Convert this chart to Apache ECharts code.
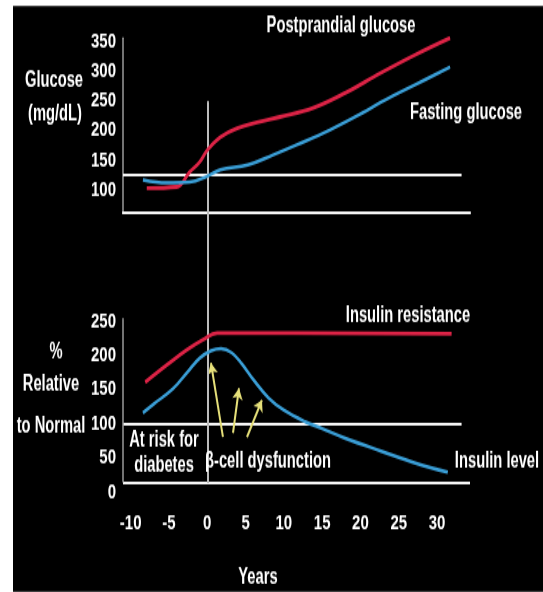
<!DOCTYPE html>
<html>
<head>
<meta charset="utf-8">
<script src="https://cdn.jsdelivr.net/npm/echarts@6/dist/echarts.min.js"></script>
<style>
html,body{margin:0;padding:0;background:#fff;overflow:hidden;width:543px;height:592px;}
/* the original slide is stretched vertically: draw at 1/1.4 height and stretch */
#chart{width:543px;height:422.86px;transform:scaleY(1.4);transform-origin:0 0;}
</style>
</head>
<body>
<div id="chart"></div>
<script>
// ---- Data ----
const glucoseTicks = [100, 150, 200, 250, 300, 350];
const percentTicks = [0, 50, 100, 150, 200, 250];
const yearTicks = [-10, -5, 0, 5, 10, 15, 20, 25, 30];

const postprandialYears = [-7.9, -4.0, -2.3, -1.0, 0, 1.7, 3.9, 6.9, 9.5, 13.8, 18.1, 22.5, 27.2, 31.7];
const postprandialGlucose = [103, 105, 130, 147, 167, 189, 204, 215, 223, 238, 264, 296, 328, 356];

const fastingYears = [-8.4, -5.3, -2.3, 0, 1.7, 5.3, 8.6, 11.7, 16.0, 20.3, 22.7, 27.1, 31.7];
const fastingGlucose = [117, 112, 113, 123, 134, 142, 159, 176, 201, 230, 248, 277, 307];

const resistanceYears = [-8.1, -5.3, -2.7, -0.6, 1.3, 31.9];
const resistancePct = [161, 186, 208, 223, 233, 232];

const insulinYears = [-8.4, -7.0, -4.5, -2.5, -1.0, 0.5, 1.8, 3.2, 4.5, 6.0, 8.0, 10.0, 12.8, 15.0, 18.0, 22.7, 27.3, 31.4];
const insulinPct = [116, 129, 151, 177, 196, 207, 210, 204, 188, 165, 138, 120, 103, 93, 79, 60, 42, 29];

const glucoseNormal = 125;   // white reference line, top panel
const glucoseBase = 61;      // bottom line of top panel
const percentNormal = 100;   // white reference line, bottom panel
const percentBase = 14;      // bottom line of bottom panel

const arrowTails = [[2.05, 80.6], [3.36, 86.5], [5.18, 80.6]];
const arrowHeads = [[0.48, 189], [4.14, 152], [7.14, 134.8]];

const xMin = -11, xMax = 34.3, lineEnd = 33.2;

// ---- Styles ----
const SY = 1.4; // vertical stretch applied by CSS
const FONT = "'Liberation Sans', Arial, sans-serif";
const RED = '#dc2346';
const BLUE = '#3a9ed6';
const WHITE = '#f4f4f4';
const AXISGRAY = '#9a9a9a';

const pair = (xs, ys) => xs.map((x, i) => [x, ys[i]]);
const Y = v => v / SY;   // page y -> chart y

const chart = echarts.init(document.getElementById('chart'), null, {renderer: 'canvas'});

function txt(text, x, y) {
  return {
    type: 'text', x: x, y: Y(y), z: 100, scaleX: 0.92, scaleY: 1,
    style: {text: text, fill: '#fff', font: 'bold 16px ' + FONT, align: 'center', verticalAlign: 'middle'}
  };
}

const tickLabel = {color: '#fff', fontFamily: FONT, fontWeight: 'bold', fontSize: 15};

const option = {
  backgroundColor: '#ffffff',
  animation: false,
  grid: [
    {left: 123, top: Y(38), width: 347, height: Y(175)},
    {left: 123, top: Y(318), width: 347, height: Y(174)},
    {left: 123, top: Y(101), width: 347, height: Y(382)}
  ],
  xAxis: [
    {gridIndex: 0, type: 'value', min: xMin, max: xMax,
     axisLine: {show: true, onZero: false, lineStyle: {color: WHITE, width: 2.2}},
     axisTick: {show: false}, axisLabel: {show: false}, splitLine: {show: false}},
    {gridIndex: 1, type: 'value', min: xMin, max: xMax,
     axisLine: {show: false}, axisTick: {show: false}, splitLine: {show: false},
     axisLabel: Object.assign({show: true, customValues: yearTicks, margin: 15}, tickLabel)},
    {gridIndex: 2, type: 'value', min: xMin, max: xMax, show: false}
  ],
  yAxis: [
    {gridIndex: 0, type: 'value', min: glucoseBase, max: 356,
     axisLine: {show: true, onZero: false, lineStyle: {color: AXISGRAY, width: 1.5}},
     axisTick: {show: false}, splitLine: {show: false},
     axisLabel: Object.assign({customValues: glucoseTicks, margin: 7}, tickLabel)},
    {gridIndex: 1, type: 'value', min: 0, max: 255,
     axisLine: {show: false}, axisTick: {show: false}, splitLine: {show: false},
     axisLabel: Object.assign({customValues: percentTicks, margin: 7}, tickLabel)},
    {gridIndex: 2, type: 'value', min: 0, max: 1, show: false}
  ],
  graphic: [
    {type: 'rect', shape: {x: 13, y: Y(6), width: 530, height: Y(586)}, style: {fill: '#000'}, z: -100, silent: true},
    txt('Glucose', 54, 80),
    txt('(mg/dL)', 55, 114),
    txt('Postprandial glucose', 341, 26),
    txt('Fasting glucose', 466, 113),
    txt('%', 56, 352),
    txt('Relative', 51, 385),
    txt('to Normal', 51, 426),
    txt('Insulin resistance', 408, 316),
    txt('Insulin level', 497, 462),
    txt('At risk for', 164, 440),
    txt('diabetes', 164, 465),
    txt('\u03b2-cell dysfunction', 268, 462),
    txt('Years', 258, 578)
  ],
  series: [
    {
      name: 'Postprandial glucose', type: 'line', xAxisIndex: 0, yAxisIndex: 0,
      data: pair(postprandialYears, postprandialGlucose), smooth: 0.4, showSymbol: false,
      lineStyle: {color: RED, width: 2.8}, z: 5,
      markLine: {silent: true, symbol: 'none', label: {show: false},
        lineStyle: {color: WHITE, width: 2.2, type: 'solid'},
        data: [[{coord: [xMin, glucoseNormal]}, {coord: [lineEnd, glucoseNormal]}]]}
    },
    {
      name: 'Fasting glucose', type: 'line', xAxisIndex: 0, yAxisIndex: 0,
      data: pair(fastingYears, fastingGlucose), smooth: 0.4, showSymbol: false,
      lineStyle: {color: BLUE, width: 2.5}, z: 6
    },
    {
      name: 'Insulin resistance', type: 'line', xAxisIndex: 1, yAxisIndex: 1,
      data: pair(resistanceYears, resistancePct), smooth: 0.4, showSymbol: false,
      lineStyle: {color: RED, width: 2.8}, z: 5,
      markLine: {silent: true, symbol: 'none', label: {show: false},
        lineStyle: {color: WHITE, width: 2.2, type: 'solid'},
        data: [
          [{coord: [xMin, percentNormal]}, {coord: [lineEnd, percentNormal]}],
          [{coord: [xMin, percentBase]}, {coord: [xMax, percentBase]}],
          [{coord: [xMin, percentBase], lineStyle: {color: AXISGRAY, width: 1.5}}, {coord: [xMin, 255]}]
        ]}
    },
    {
      name: 'Insulin level', type: 'line', xAxisIndex: 1, yAxisIndex: 1,
      data: pair(insulinYears, insulinPct), smooth: 0.4, showSymbol: false,
      lineStyle: {color: BLUE, width: 2.5}, z: 6
    },
    {
      name: 'arrows', type: 'line', xAxisIndex: 1, yAxisIndex: 1, data: [], z: 7,
      markLine: {silent: true, symbol: ['none', 'arrow'], symbolSize: 8, label: {show: false},
        lineStyle: {color: '#e6e07a', width: 2, type: 'solid'},
        data: arrowTails.map((t, i) => [{coord: t}, {coord: arrowHeads[i]}])}
    },
    {
      name: 'onset', type: 'line', xAxisIndex: 2, yAxisIndex: 2, data: [], z: 4,
      markLine: {silent: true, symbol: 'none', label: {show: false},
        lineStyle: {color: '#bdbdbd', width: 2, type: 'solid'},
        data: [{xAxis: 0}]}
    }
  ]
};
chart.setOption(option);
</script>
</body>
</html>
